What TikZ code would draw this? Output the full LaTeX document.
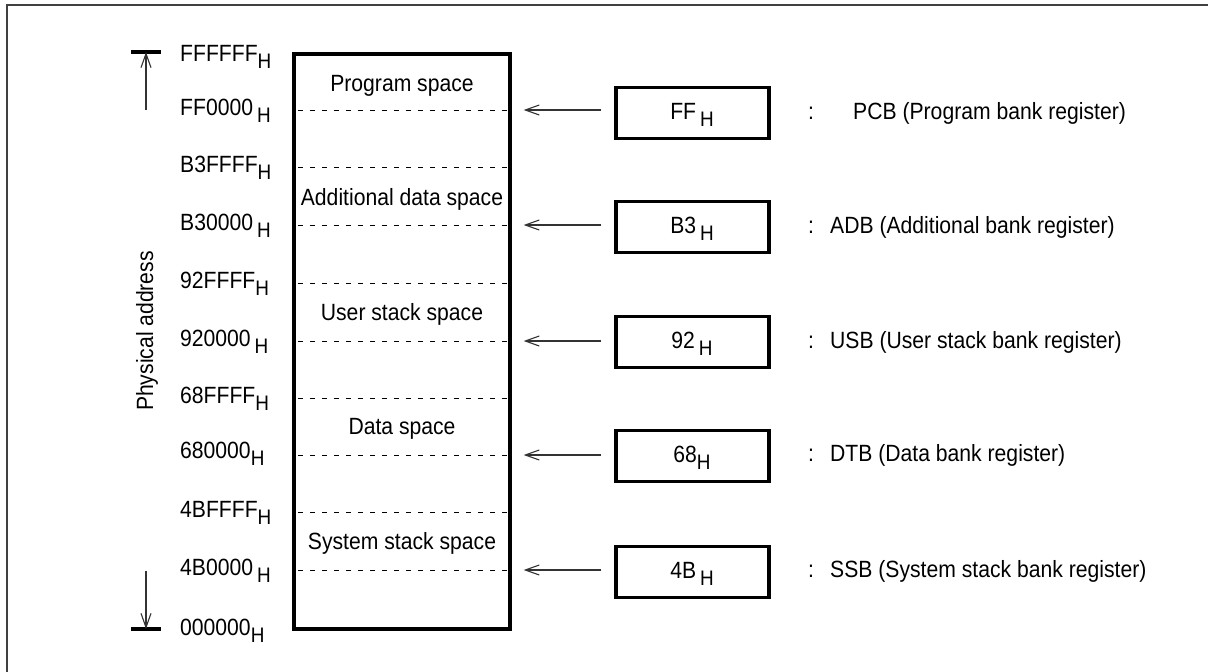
\documentclass[tikz,border=0pt]{standalone}
\usepackage{fontspec}
\setmainfont{Liberation Sans}[FakeStretch=0.9]
\usetikzlibrary{arrows.meta}
\newcommand{\hsub}[1]{\raisebox{-7pt}{\fontsize{21}{21}\selectfont #1}}
\begin{document}
\begin{tikzpicture}[x=1pt,y=-1pt,
  font=\fontsize{23.5}{27}\selectfont,
  frameline/.style={draw=black!75, line width=2pt},
  membox/.style={draw, line width=3.3pt, inner sep=0pt},
  divider/.style={line width=0.9pt, dash pattern=on 5pt off 7pt},
  addr/.style={anchor=base west, inner sep=0pt},
  spacelab/.style={anchor=base, inner sep=0pt},
  regbox/.style={draw, line width=3.2pt, minimum width=153pt, minimum height=51pt, inner sep=0pt},
  regtext/.style={anchor=base, inner sep=0pt},
  reglab/.style={anchor=base west, inner sep=0pt},
  ptr/.style={line width=1.1pt, draw=black!80, -{Straight Barb[length=14pt,width=10pt,line width=1.1pt]}},
  bar/.style={line width=3.2pt},
]
\useasboundingbox (0,0) rectangle (1208,672);
% frame (top and left edges only)
\draw[frameline] (7,672) -- (7,5) -- (1208,5);

% memory map rectangle
\node[membox, minimum width=216pt, minimum height=575pt] (mem) at (402,341.5) {};

% dividers
\foreach \y in {110,167,225,283,341,398,455,512,570}
  \draw[divider] (298,\y) -- (mem.east |- 0,\y);

% space labels
\node[spacelab] (s1) at (402,91) {Program space};
\node[spacelab] (s2) at (402,205) {Additional data space};
\node[spacelab] (s3) at (402,320) {User stack space};
\node[spacelab] (s4) at (402,434) {Data space};
\node[spacelab] (s5) at (402,549) {System stack space};

% address labels
\node[addr] (a0) at (180,61) {FFFFFF\hsub{H}};
\node[addr] (a1) at (180,115) {FF0000\,\hsub{H}};
\node[addr] (a2) at (180,172) {B3FFFF\hsub{H}};
\node[addr] (a3) at (180,230) {B30000\,\hsub{H}};
\node[addr] (a4) at (180,288) {92FFFF\hsub{H}};
\node[addr] (a5) at (180,346) {920000\,\hsub{H}};
\node[addr] (a6) at (180,403) {68FFFF\hsub{H}};
\node[addr] (a7) at (180,458) {680000\hsub{H}};
\node[addr] (a8) at (180,517) {4BFFFF\hsub{H}};
\node[addr] (a9) at (180,575) {4B0000\,\hsub{H}};
\node[addr] (a10) at (180,635) {000000\hsub{H}};

% physical address axis
\coordinate (topL) at (131,52);
\coordinate (topR) at (161,52);
\coordinate (botL) at (131,629);
\coordinate (botR) at (161,629);
\coordinate (topS) at (146,110);
\coordinate (topE) at (146,52);
\coordinate (botS) at (146,571);
\coordinate (botE) at (146,629);
\draw[bar] (topL) -- (topR);
\draw[bar] (botL) -- (botR);
\draw[ptr] (topS) -- (topE);
\draw[ptr] (botS) -- (botE);
\node[rotate=90, inner sep=0pt] (phys) at (147,331) {Physical address};

% register boxes
\node[regbox] (r1) at (692.5,113) {};
\node[regbox] (r2) at (692.5,227) {};
\node[regbox] (r3) at (692.5,342) {};
\node[regbox] (r4) at (692.5,456) {};
\node[regbox] (r5) at (692.5,572) {};
\node[regtext] (t1) at (692,119) {FF\,\hsub{H}};
\node[regtext] (t2) at (692,233) {B3\,\hsub{H}};
\node[regtext] (t3) at (692,348) {92\,\hsub{H}};
\node[regtext] (t4) at (692,462) {68\hsub{H}};
\node[regtext] (t5) at (692,578) {4B\,\hsub{H}};

% pointers
\foreach \i/\y in {1/110,2/225,3/341,4/455,5/570}
  \draw[ptr] ([xshift=-13pt]r\i.west |- 0,\y) -- ([xshift=12pt]mem.east |- 0,\y);

% register descriptions
\node[reglab] (c1) at (808,119) {:};
\node[reglab] (d1) at (853,119) {PCB (Program bank register)};
\node[reglab] (c2) at (808,233) {:};
\node[reglab] (d2) at (830,233) {ADB (Additional bank register)};
\node[reglab] (c3) at (808,348) {:};
\node[reglab] (d3) at (830,348) {USB (User stack bank register)};
\node[reglab] (c4) at (808,461) {:};
\node[reglab] (d4) at (830,461) {DTB (Data bank register)};
\node[reglab] (c5) at (808,577) {:};
\node[reglab] (d5) at (830,577) {SSB (System stack bank register)};
\end{tikzpicture}
\end{document}
